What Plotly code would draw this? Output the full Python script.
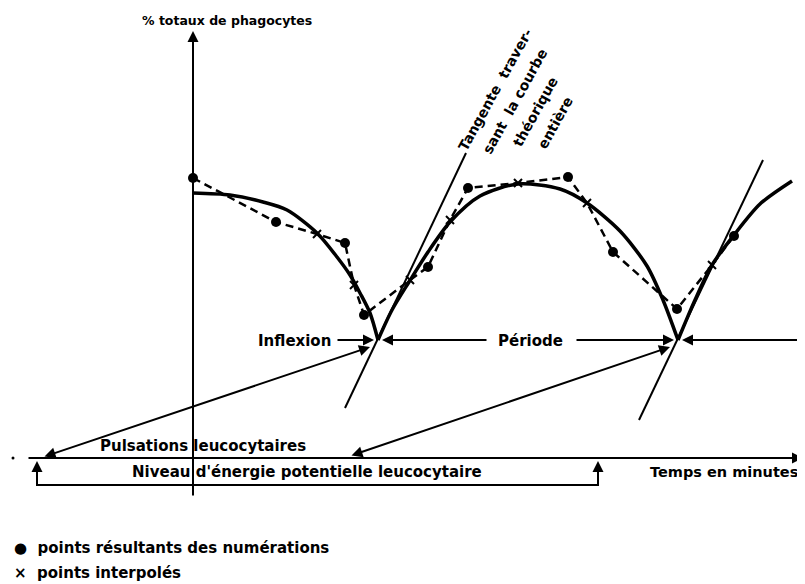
import plotly.graph_objects as go

# ---------------- data (time units / % units, origin at the axes crossing) -------------
measured_t = [0, 83, 152, 171, 235, 275, 375, 420, 484, 541]
measured_pct = [280, 236, 215, 143, 191, 270, 281, 206, 149, 222]

interp_t = [124, 161, 217, 257, 325, 394, 519]
interp_pct = [224, 173, 178, 238, 275, 255, 193]

# theoretical curve, three arches meeting at inflexion cusps
theo_a_t = [0, 37, 70, 94, 124, 144, 157, 167, 177, 185]
theo_a_pct = [265, 263, 256, 248, 225, 201, 183, 165, 145, 118]
theo_b_t = [185, 199, 216, 235, 257, 287, 325, 367, 394, 427, 454, 470, 485]
theo_b_pct = [118, 148, 176, 206, 236, 262, 274, 269, 255, 227, 192, 158, 118]
theo_c_t = [485, 502, 519, 541, 567, 599]
theo_c_pct = [118, 158, 193, 223, 254, 277]

inflexion_t = [185, 485]
inflexion_pct = [118, 118]

tangent1_t = [152, 273]
tangent1_pct = [50, 305]
tangent2_t = [446, 570]
tangent2_pct = [38, 298]

# ---------------- layout helpers -------------
X0, Y0 = 193, 458      # page pixel position of the axes crossing
PAGE_W, PAGE_H = 805, 584
BODY = 8               # default page margin around the figure
W, H = PAGE_W - BODY, PAGE_H - BODY


def P(px, py):
    """page pixel -> data coordinates"""
    return px - X0, Y0 - py


FAMILY = "DejaVu Sans, Arial, sans-serif"

fig = go.Figure()

# tangents
for tt, tp in [(tangent1_t, tangent1_pct), (tangent2_t, tangent2_pct)]:
    fig.add_trace(go.Scatter(x=tt, y=tp, mode="lines",
                             line=dict(color="black", width=2), hoverinfo="skip"))

# theoretical curve
for tt, tp in [(theo_a_t, theo_a_pct), (theo_b_t, theo_b_pct), (theo_c_t, theo_c_pct)]:
    fig.add_trace(go.Scatter(x=tt, y=tp, mode="lines",
                             line=dict(color="black", width=3.5, shape="spline", smoothing=0.8),
                             hoverinfo="skip"))

# dashed line joining measured and interpolated points
all_pts = sorted(list(zip(measured_t, measured_pct)) + list(zip(interp_t, interp_pct)))
fig.add_trace(go.Scatter(x=[p[0] for p in all_pts], y=[p[1] for p in all_pts], mode="lines",
                         line=dict(color="black", width=2.5, dash="8px,5px"), hoverinfo="skip"))

fig.add_trace(go.Scatter(x=measured_t, y=measured_pct, mode="markers",
                         marker=dict(color="black", size=10, symbol="circle"), hoverinfo="skip"))
fig.add_trace(go.Scatter(x=interp_t, y=interp_pct, mode="markers",
                         marker=dict(color="black", size=8, symbol="x-thin",
                                     line=dict(color="black", width=2)), hoverinfo="skip"))

# bracket "Niveau d'énergie potentielle leucocytaire"
bx, by = zip(P(37, 466), P(37, 485), P(598, 485), P(598, 466))
fig.add_trace(go.Scatter(x=list(bx), y=list(by), mode="lines",
                         line=dict(color="black", width=2), hoverinfo="skip"))

# small dot left of the time axis
dx, dy = P(13, 458)
fig.add_trace(go.Scatter(x=[dx], y=[dy], mode="markers",
                         marker=dict(color="black", size=3), hoverinfo="skip"))

ann = []


def arrow(p_from, p_to, both=False, width=2, size=1.1):
    ax, ay = P(*p_from)
    x, y = P(*p_to)
    d = dict(x=x, y=y, ax=ax, ay=ay, xref="x", yref="y", axref="x", ayref="y",
             text="", showarrow=True, arrowhead=2, arrowsize=size, arrowwidth=width,
             arrowcolor="black", standoff=0, startstandoff=0)
    if both:
        d.update(arrowside="end+start", startarrowhead=2, startarrowsize=size)
    ann.append(d)


def text(s, px, py, xanchor="left", angle=0, size=15):
    x, y = P(px, py)
    ann.append(dict(x=x, y=y, xref="x", yref="y", text=s, showarrow=False,
                    xanchor=xanchor, yanchor="middle",
                    font=dict(family=FAMILY, size=size, color="black", weight="bold"),
                    textangle=angle))


# axes
arrow((193, 497), (193, 31))
arrow((27, 458), (803, 458))
# bracket arrow heads
arrow((37, 476), (37, 461))
arrow((598, 476), (598, 461))

# inflexion / period arrows
arrow((336, 340), (374, 340))
arrow((488, 340), (382, 340))
arrow((575, 340), (674, 340))
arrow((802, 340), (682, 340))

# pulsations double arrows
arrow((43, 457), (370, 347), both=True)
arrow((350, 456), (670, 347), both=True)

# texts
text("% totaux de phagocytes", 140, 20, size=12.5)
text("Inflexion", 333, 341, xanchor="right")
text("Période", 530, 341, xanchor="center")
text("Pulsations leucocytaires", 98, 446)
text("Niveau d'énergie potentielle leucocytaire", 130, 472)
text("Temps en minutes", 800, 472, xanchor="right", size=14.5)
text("●  points résultants des numérations", 12, 548, size=15)
text("×  points interpolés", 12, 573, size=15)

# rotated tangent label (centred lines)
for s, (cx, cy) in zip(["Tangente  traver-", "sant  la courbe", "théorique", "entière"],
                       [(495, 90), (515, 101), (535, 112), (555, 123)]):
    text(s, cx, cy, xanchor="center", angle=-61, size=14)

fig.update_layout(
    width=W, height=H, margin=dict(l=0, r=0, t=0, b=0),
    paper_bgcolor="white", plot_bgcolor="white", showlegend=False,
    xaxis=dict(range=[BODY - X0, PAGE_W - X0], visible=False, fixedrange=True),
    yaxis=dict(range=[Y0 - PAGE_H, Y0 - BODY], visible=False, fixedrange=True),
    annotations=ann,
)

fig.write_html("out.html")
